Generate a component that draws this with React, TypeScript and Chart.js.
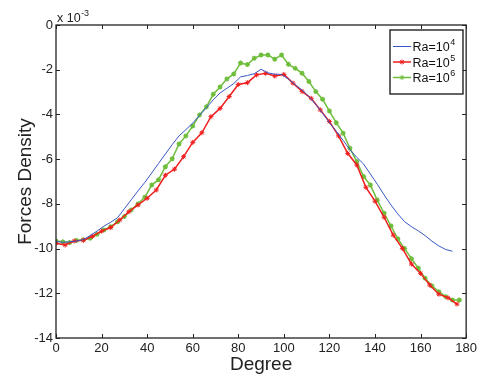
import React, { useEffect, useRef } from "react";
import { Chart, registerables } from "chart.js";
Chart.register(...registerables);

// Degree (x) values for each series
const blueDegrees = [0,3,6,9,12,15,18,21,24,27,30,33,36,39,42,45,48,51,54,57,60,63,66,69,72,75,78,81,84,87,90,93,96,99,102,105,108,111,114,117,120,123,126,129,132,135,138,141,144,147,150,153,156,159,162,165,168,171,174];
const redDegrees = [0,4,8,12,16,20,24,28,32,36,40,44,48,52,56,60,64,68,72,76,80,84,88,92,96,100,104,108,112,116,120,124,128,132,136,140,144,148,152,156,160,164,168,172,176];
const greenDegrees = [0,3,6,9,12,15,18,21,24,27,30,33,36,39,42,45,48,51,54,57,60,63,66,69,72,75,78,81,84,87,90,93,96,99,102,105,108,111,114,117,120,123,126,129,132,135,138,141,144,147,150,153,156,159,162,165,168,171,174,177];

// Forces density values (x 10^-3)
const blueValues = [
  -9.68,-9.72,-9.70,-9.66,-9.60,-9.42,-9.22,-9.00,-8.82,-8.62,
  -8.22,-7.82,-7.42,-7.04,-6.62,-6.19,-5.77,-5.35,-4.96,-4.68,
  -4.39,-4.04,-3.70,-3.35,-3.04,-2.83,-2.62,-2.32,-2.26,-2.18,
  -1.98,-2.14,-2.20,-2.21,-2.42,-2.67,-2.91,-3.20,-3.55,-3.95,
  -4.37,-4.75,-5.16,-5.58,-5.92,-6.22,-6.67,-7.12,-7.60,-8.05,
  -8.45,-8.80,-9.02,-9.21,-9.42,-9.67,-9.88,-10.04,-10.12
];
const redValues = [
  -9.76,-9.84,-9.66,-9.63,-9.45,-9.22,-9.06,-8.72,-8.35,-8.05,
  -7.75,-7.38,-6.72,-6.45,-5.89,-5.25,-4.82,-4.10,-3.73,-3.20,
  -2.66,-2.58,-2.23,-2.16,-2.28,-2.21,-2.60,-2.97,-3.28,-3.80,
  -4.32,-4.96,-5.74,-6.26,-7.26,-7.88,-8.60,-9.40,-9.99,-10.69,
  -11.11,-11.63,-12.04,-12.20,-12.48
];
const greenValues = [
  -9.66,-9.70,-9.73,-9.64,-9.61,-9.54,-9.36,-9.17,-9.02,-8.80,
  -8.57,-8.27,-8.00,-7.70,-7.16,-6.92,-6.34,-5.98,-5.32,-4.96,
  -4.52,-4.02,-3.66,-3.10,-2.77,-2.41,-2.19,-1.70,-1.77,-1.49,
  -1.34,-1.34,-1.53,-1.34,-1.76,-1.94,-2.16,-2.53,-2.98,-3.32,
  -3.85,-4.37,-4.84,-5.51,-6.11,-6.78,-7.16,-7.83,-8.42,-8.99,
  -9.56,-10.00,-10.45,-10.88,-11.33,-11.67,-11.93,-12.15,-12.30,-12.30
];

const seriesNames = ["Ra=10", "Ra=10", "Ra=10"];
const seriesExponents = ["4", "5", "6"];
const xTitle = "Degree";
const yTitle = "Forces Density";
const yScaleBase = "x 10";
const yScaleExp = "-3";

const BLUE = "rgb(58,88,196)";
const RED = "rgb(240,30,30)";
const GREEN = "rgb(110,190,60)";
const FONT = "'Liberation Sans', Arial, sans-serif";

function drawStar(ctx: CanvasRenderingContext2D, x: number, y: number, r: number) {
  ctx.beginPath();
  ctx.moveTo(x - r, y); ctx.lineTo(x + r, y);
  ctx.moveTo(x, y - r); ctx.lineTo(x, y + r);
  const d = r * 0.7;
  ctx.moveTo(x - d, y - d); ctx.lineTo(x + d, y + d);
  ctx.moveTo(x - d, y + d); ctx.lineTo(x + d, y - d);
  ctx.stroke();
}

const framePlugin = {
  id: "framePlugin",
  afterDraw(chart: any) {
    const ctx: CanvasRenderingContext2D = chart.ctx;
    const { left, right, top, bottom } = chart.chartArea;
    const xs = chart.scales.x;
    const ys = chart.scales.y;
    ctx.save();
    ctx.strokeStyle = "#222";
    ctx.lineWidth = 1.3;
    ctx.strokeRect(left, top, right - left, bottom - top);
    ctx.lineWidth = 1;
    ctx.beginPath();
    const tl = 4;
    xs.ticks.forEach((t: any) => {
      const px = Math.round(xs.getPixelForValue(t.value)) + 0.5;
      ctx.moveTo(px, bottom); ctx.lineTo(px, bottom - tl);
      ctx.moveTo(px, top); ctx.lineTo(px, top + tl);
    });
    ys.ticks.forEach((t: any) => {
      const py = Math.round(ys.getPixelForValue(t.value)) + 0.5;
      ctx.moveTo(left, py); ctx.lineTo(left + tl, py);
      ctx.moveTo(right, py); ctx.lineTo(right - tl, py);
    });
    ctx.stroke();

    // exponent label
    ctx.fillStyle = "#222";
    ctx.textBaseline = "alphabetic";
    ctx.textAlign = "left";
    ctx.font = `12.5px ${FONT}`;
    ctx.fillText(yScaleBase, left + 1, top - 3);
    const w = ctx.measureText(yScaleBase).width;
    ctx.font = `9px ${FONT}`;
    ctx.fillText(yScaleExp, left + 1 + w + 0.5, top - 9);

    // axis titles
    ctx.font = `19px ${FONT}`;
    ctx.textAlign = "center";
    ctx.fillText(xTitle, (left + right) / 2, 370);
    ctx.save();
    ctx.translate(31, (top + bottom) / 2);
    ctx.rotate(-Math.PI / 2);
    ctx.fillText(yTitle, 0, 0);
    ctx.restore();

    // legend
    const lx0 = 390, ly0 = 30, lx1 = 463, ly1 = 94;
    ctx.fillStyle = "#fff";
    ctx.fillRect(lx0, ly0, lx1 - lx0, ly1 - ly0);
    ctx.strokeStyle = "#111";
    ctx.lineWidth = 1.3;
    ctx.strokeRect(lx0, ly0, lx1 - lx0, ly1 - ly0);
    const rows = [
      { color: BLUE, y: 46.5, marker: false, lw: 1 },
      { color: RED, y: 62, marker: true, lw: 1.5 },
      { color: GREEN, y: 77.5, marker: true, lw: 1.5 },
    ];
    rows.forEach((r, i) => {
      ctx.strokeStyle = r.color;
      ctx.lineWidth = r.lw;
      ctx.beginPath();
      ctx.moveTo(393, r.y); ctx.lineTo(411, r.y);
      ctx.stroke();
      if (r.marker) {
        ctx.lineWidth = 1;
        drawStar(ctx, 402, r.y, 2.5);
      }
      ctx.fillStyle = "#111";
      ctx.textAlign = "left";
      ctx.font = `12.5px ${FONT}`;
      ctx.fillText(seriesNames[i], 412.5, r.y + 4.5);
      const tw = ctx.measureText(seriesNames[i]).width;
      ctx.font = `9px ${FONT}`;
      ctx.fillText(seriesExponents[i], 412.5 + tw + 0.5, r.y - 1.5);
    });
    ctx.restore();
  },
};

export default function App() {
  const ref = useRef<HTMLCanvasElement>(null);
  useEffect(() => {
    if (!ref.current) return;
    const toPts = (xs: number[], ys: number[]) => xs.map((x, i) => ({ x, y: ys[i] }));
    const tickFont = { family: FONT, size: 13 };
    const chart = new Chart(ref.current, {
      type: "line",
      data: {
        datasets: [
          {
            label: "Ra=10^4",
            data: toPts(blueDegrees, blueValues),
            borderColor: BLUE,
            borderWidth: 1,
            pointRadius: 0,
            fill: false,
          },
          {
            label: "Ra=10^5",
            data: toPts(redDegrees, redValues),
            borderColor: RED,
            backgroundColor: RED,
            borderWidth: 1.5,
            pointStyle: "star",
            pointRadius: 2.5,
            pointBorderWidth: 1,
            pointBorderColor: RED,
            fill: false,
          },
          {
            label: "Ra=10^6",
            data: toPts(greenDegrees, greenValues),
            borderColor: GREEN,
            backgroundColor: GREEN,
            borderWidth: 1.5,
            pointStyle: "star",
            pointRadius: 2.5,
            pointBorderWidth: 1.3,
            pointBorderColor: GREEN,
            fill: false,
          },
        ],
      },
      options: {
        animation: false,
        responsive: false,
        layout: { padding: { top: 25, right: 11, left: 0, bottom: 0 } },
        plugins: { legend: { display: false }, tooltip: { enabled: false } },
        scales: {
          x: {
            type: "linear",
            min: 0,
            max: 180,
            afterFit: (s: any) => { s.height = 38; },
            ticks: { stepSize: 20, font: tickFont, color: "#222", padding: 3, maxRotation: 0, autoSkip: false },
            grid: { display: false, drawTicks: false },
            border: { display: false },
          },
          y: {
            type: "linear",
            min: -14,
            max: 0,
            afterFit: (s: any) => { s.width = 56; },
            ticks: { stepSize: 2, font: tickFont, color: "#222", padding: 3, autoSkip: false },
            grid: { display: false, drawTicks: false },
            border: { display: false },
          },
        },
      },
      plugins: [framePlugin],
    } as any);
    return () => chart.destroy();
  }, []);
  return (
    <div style={{ position: "absolute", left: 0, top: 0, width: 480, height: 376, background: "#fff" }}>
      <canvas ref={ref} width={480} height={376} />
    </div>
  );
}
